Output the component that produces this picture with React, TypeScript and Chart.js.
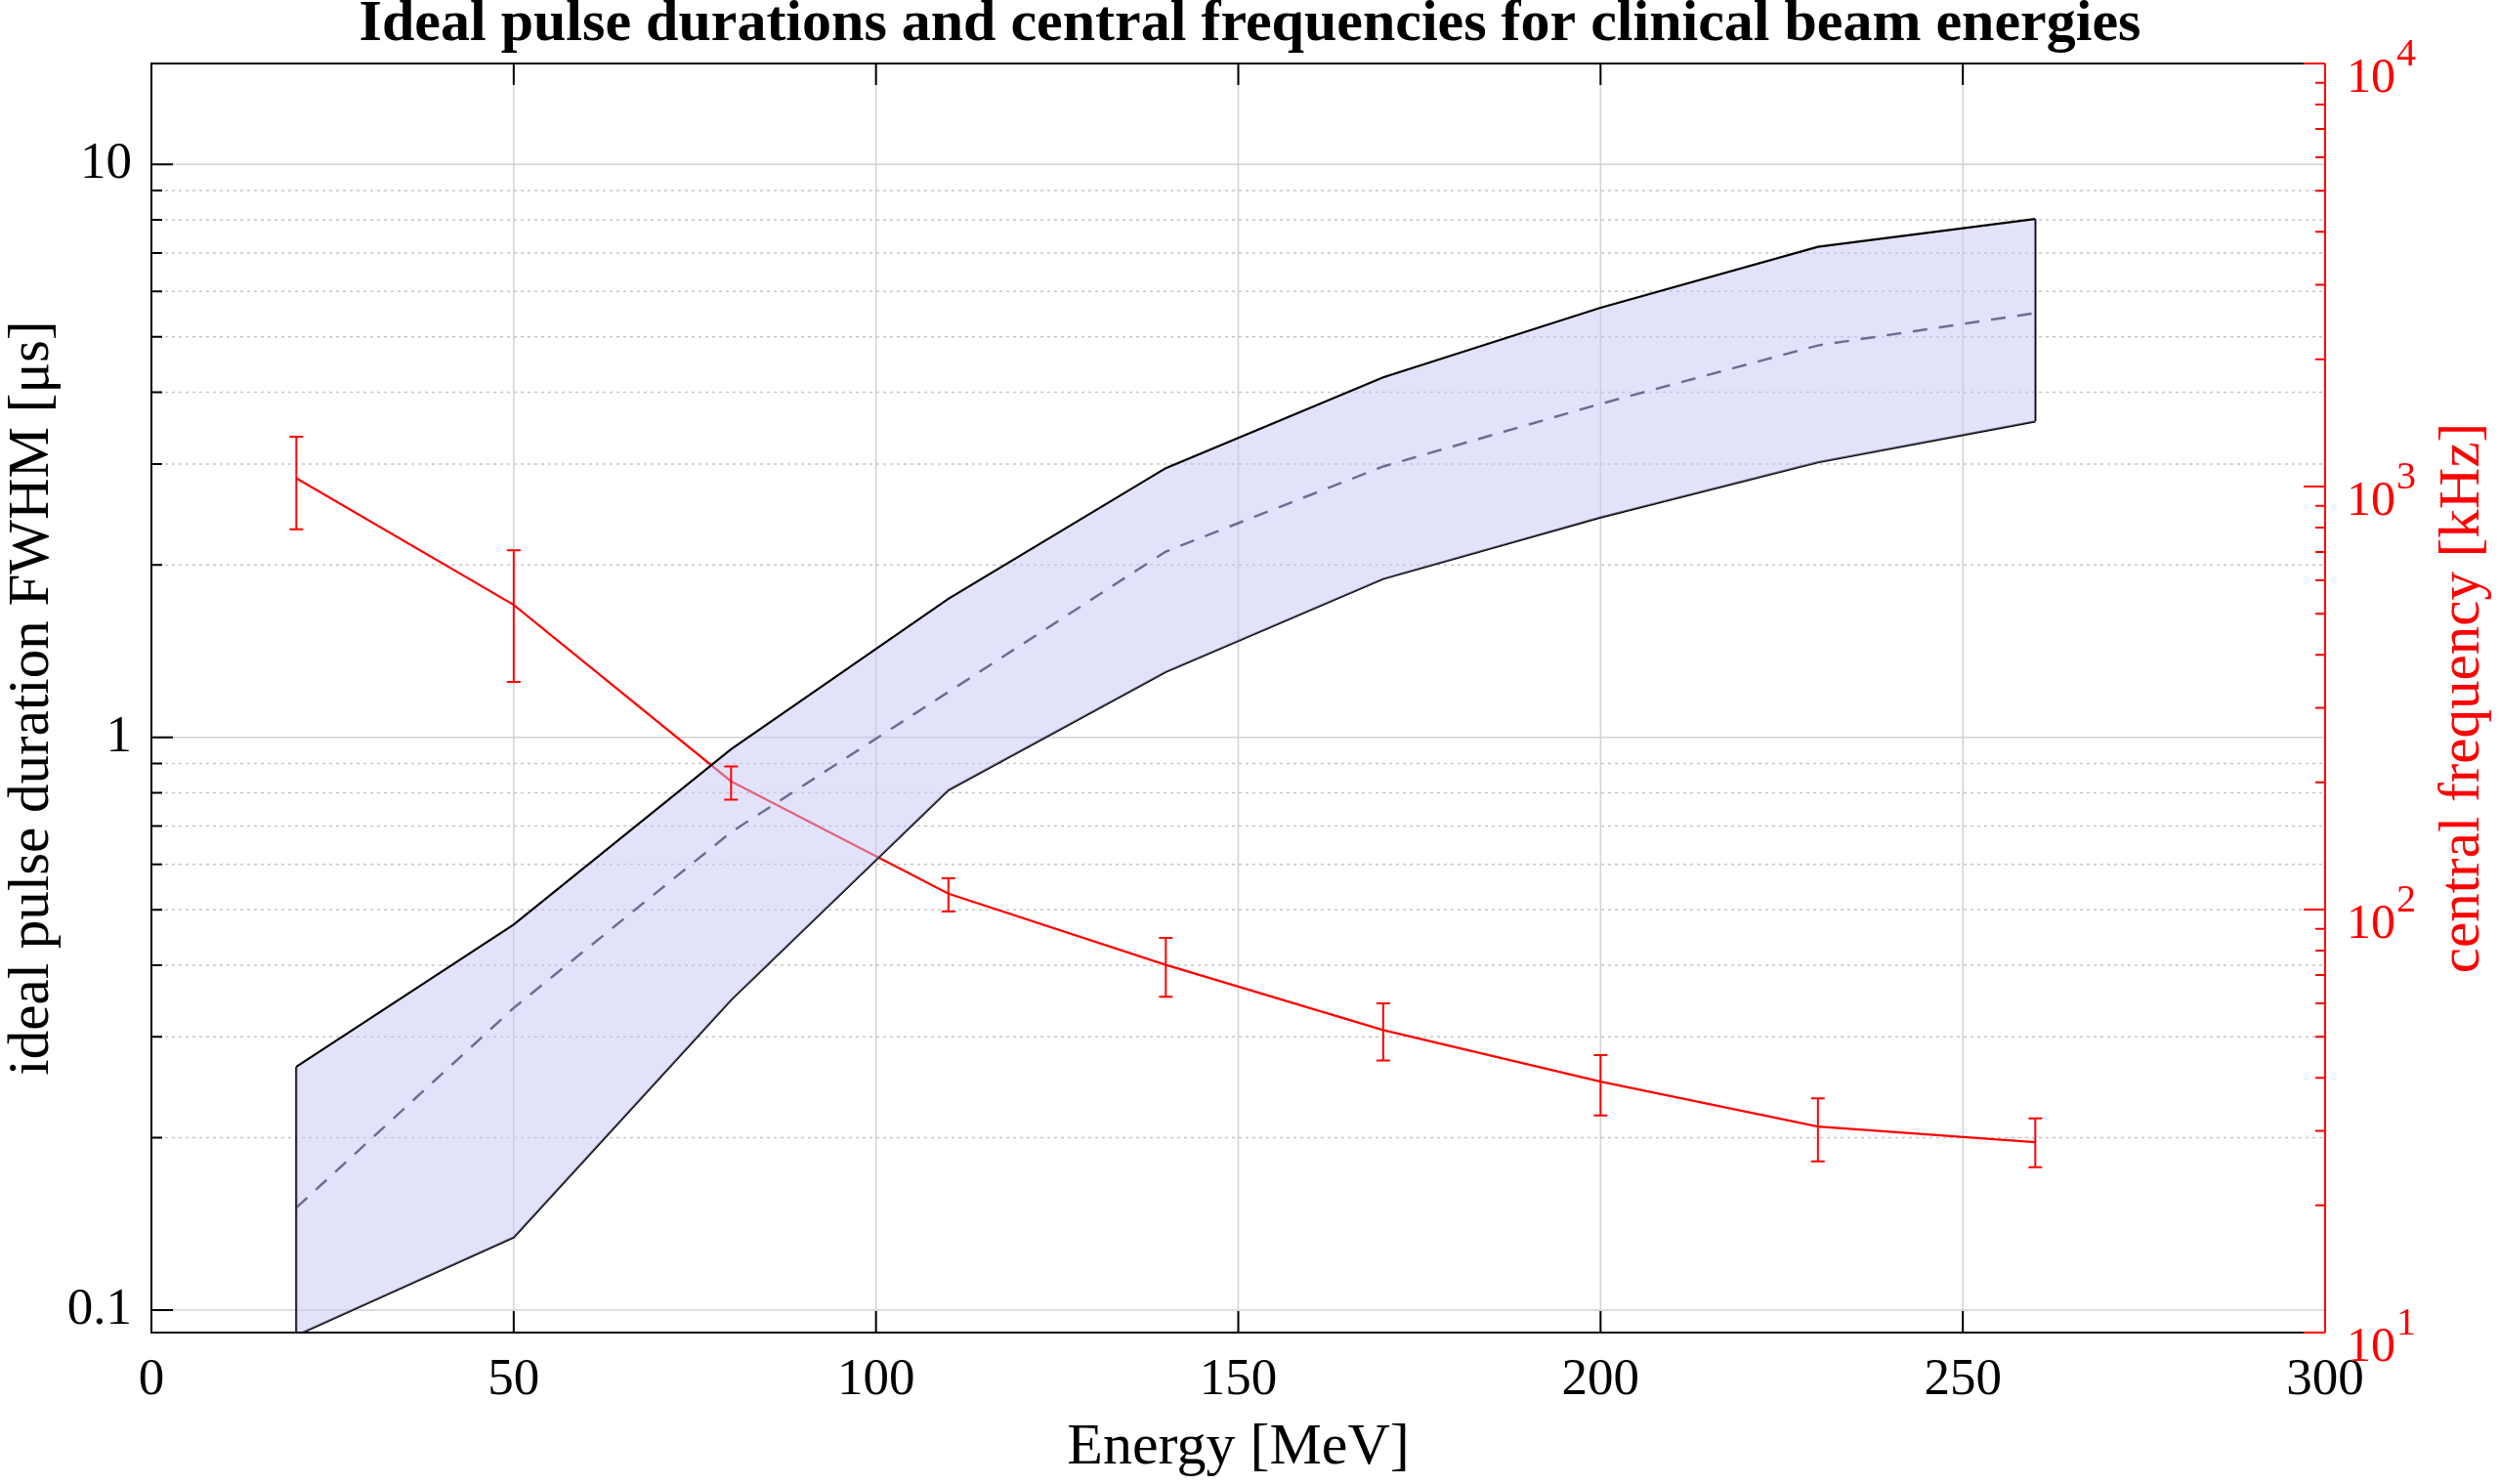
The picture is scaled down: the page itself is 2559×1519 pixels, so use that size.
import { useEffect, useRef } from 'react';
import { Chart, registerables } from 'chart.js';

Chart.register(...registerables);

// ---------- data ----------
const energies = [20, 50, 80, 110, 140, 170, 200, 230, 260];
const pulseUpper = [0.266, 0.471, 0.953, 1.745, 2.95, 4.25, 5.62, 7.18, 8.03];
const pulseMid = [0.151, 0.337, 0.683, 1.2, 2.11, 2.97, 3.82, 4.83, 5.5];
const pulseLower = [0.0904, 0.134, 0.348, 0.809, 1.3, 1.89, 2.42, 3.02, 3.56];
const freqCentral = [1046, 525, 201, 109, 74, 51.9, 39.2, 30.7, 28.2];
const freqHigh = [1312, 707, 218, 118.5, 85.7, 60, 45.3, 35.8, 32.1];
const freqLow = [792, 345, 182, 99, 62.2, 44, 32.6, 25.4, 24.6];

const xTickValues = [0, 50, 100, 150, 200, 250, 300];
const leftMajorTicks = [0.1, 1, 10];
const leftMinorTicks = [0.2, 0.3, 0.4, 0.5, 0.6, 0.7, 0.8, 0.9, 2, 3, 4, 5, 6, 7, 8, 9];
const rightExponents = [1, 2, 3, 4];
const rightMinorTicks = [
  20, 30, 40, 50, 60, 70, 80, 90,
  200, 300, 400, 500, 600, 700, 800, 900,
  2000, 3000, 4000, 5000, 6000, 7000, 8000, 9000,
];

const TITLE = 'Ideal pulse durations and central frequencies for clinical beam energies';
const X_TITLE = 'Energy [MeV]';
const Y_TITLE = 'ideal pulse duration FWHM [\u03bcs]';
const Y2_TITLE = 'central frequency [kHz]';

const FONT = "'Liberation Serif', 'Times New Roman', serif";
const RED = '#ff0000';

const matlabAxes = {
  id: 'matlabAxes',
  beforeDatasetsDraw(chart: any) {
    const { ctx, chartArea: a, scales } = chart;
    const x = scales.x;
    const y = scales.y;
    ctx.save();
    ctx.lineWidth = 1.5;
    ctx.strokeStyle = '#d2d2d2';
    ctx.beginPath();
    xTickValues.slice(1, -1).forEach((v) => {
      const px = x.getPixelForValue(v);
      ctx.moveTo(px, a.top);
      ctx.lineTo(px, a.bottom);
    });
    leftMajorTicks.forEach((v) => {
      const py = y.getPixelForValue(v);
      ctx.moveTo(a.left, py);
      ctx.lineTo(a.right, py);
    });
    ctx.stroke();
    ctx.setLineDash([3, 4]);
    ctx.strokeStyle = '#c6c6c6';
    ctx.beginPath();
    leftMinorTicks.forEach((v) => {
      const py = y.getPixelForValue(v);
      ctx.moveTo(a.left, py);
      ctx.lineTo(a.right, py);
    });
    ctx.stroke();
    ctx.restore();
  },
  afterDatasetsDraw(chart: any) {
    const { ctx, chartArea: a, scales } = chart;
    const x = scales.x;
    const y = scales.y;
    const y2 = scales.y2;
    ctx.save();

    // error bars
    ctx.strokeStyle = RED;
    ctx.lineWidth = 2;
    ctx.beginPath();
    energies.forEach((e, i) => {
      const px = x.getPixelForValue(e);
      const hi = y2.getPixelForValue(freqHigh[i]);
      const lo = y2.getPixelForValue(freqLow[i]);
      ctx.moveTo(px, hi);
      ctx.lineTo(px, lo);
      ctx.moveTo(px - 7, hi);
      ctx.lineTo(px + 7, hi);
      ctx.moveTo(px - 7, lo);
      ctx.lineTo(px + 7, lo);
    });
    ctx.stroke();

    // box (black)
    ctx.strokeStyle = '#000';
    ctx.lineWidth = 2;
    ctx.beginPath();
    ctx.moveTo(a.right, a.top);
    ctx.lineTo(a.left, a.top);
    ctx.lineTo(a.left, a.bottom);
    ctx.lineTo(a.right, a.bottom);
    // x ticks (inward, top and bottom)
    xTickValues.forEach((v) => {
      const px = x.getPixelForValue(v);
      ctx.moveTo(px, a.bottom);
      ctx.lineTo(px, a.bottom - 22);
      ctx.moveTo(px, a.top);
      ctx.lineTo(px, a.top + 22);
    });
    // left ticks
    leftMajorTicks.forEach((v) => {
      const py = y.getPixelForValue(v);
      ctx.moveTo(a.left, py);
      ctx.lineTo(a.left + 22, py);
    });
    leftMinorTicks.forEach((v) => {
      const py = y.getPixelForValue(v);
      ctx.moveTo(a.left, py);
      ctx.lineTo(a.left + 11, py);
    });
    ctx.stroke();

    // right axis (red)
    ctx.strokeStyle = RED;
    ctx.beginPath();
    ctx.moveTo(a.right, a.top);
    ctx.lineTo(a.right, a.bottom);
    rightExponents.forEach((e) => {
      const py = y2.getPixelForValue(Math.pow(10, e));
      ctx.moveTo(a.right, py);
      ctx.lineTo(a.right - 22, py);
    });
    rightMinorTicks.forEach((v) => {
      const py = y2.getPixelForValue(v);
      ctx.moveTo(a.right, py);
      ctx.lineTo(a.right - 10, py);
    });
    ctx.stroke();

    // right tick labels 10^n
    ctx.fillStyle = RED;
    ctx.textAlign = 'left';
    ctx.textBaseline = 'alphabetic';
    rightExponents.forEach((e) => {
      const py = y2.getPixelForValue(Math.pow(10, e));
      ctx.font = `50px ${FONT}`;
      ctx.fillText('10', a.right + 22, py + 29);
      const w = ctx.measureText('10').width;
      ctx.font = `40px ${FONT}`;
      ctx.fillText(String(e), a.right + 22 + w + 1, py + 2);
    });

    // right axis title
    ctx.save();
    ctx.translate(2537, (a.top + a.bottom) / 2);
    ctx.rotate(-Math.PI / 2);
    ctx.font = `59px ${FONT}`;
    ctx.textAlign = 'center';
    ctx.textBaseline = 'alphabetic';
    ctx.fillStyle = RED;
    ctx.fillText(Y2_TITLE, 0, 0);
    ctx.restore();

    ctx.restore();
  },
};

export default function App() {
  const canvasRef = useRef<HTMLCanvasElement | null>(null);

  useEffect(() => {
    const canvas = canvasRef.current;
    if (!canvas) return;
    const pts = (ys: number[]) => energies.map((e, i) => ({ x: e, y: ys[i] }));
    const last = energies.length - 1;

    const chart = new Chart(canvas, {
      type: 'line',
      data: {
        datasets: [
          {
            label: 'upper',
            data: pts(pulseUpper),
            borderColor: '#000',
            borderWidth: 2.2,
            backgroundColor: 'rgba(198,198,248,0.5)',
            fill: '+1',
            pointRadius: 0,
            tension: 0,
            clip: 0,
            yAxisID: 'y',
          },
          {
            label: 'lower',
            data: pts(pulseLower),
            borderColor: '#000',
            borderWidth: 2.2,
            fill: false,
            pointRadius: 0,
            tension: 0,
            clip: 0,
            yAxisID: 'y',
          },
          {
            label: 'edgeStart',
            data: [
              { x: energies[0], y: pulseUpper[0] },
              { x: energies[0], y: pulseLower[0] },
            ],
            borderColor: '#000',
            borderWidth: 2.2,
            fill: false,
            pointRadius: 0,
            clip: 0,
            yAxisID: 'y',
          },
          {
            label: 'edgeEnd',
            data: [
              { x: energies[last], y: pulseUpper[last] },
              { x: energies[last], y: pulseLower[last] },
            ],
            borderColor: '#000',
            borderWidth: 2.2,
            fill: false,
            pointRadius: 0,
            clip: 0,
            yAxisID: 'y',
          },
          {
            label: 'mid',
            data: pts(pulseMid),
            borderColor: '#141430',
            borderWidth: 2.5,
            borderDash: [15, 12],
            fill: false,
            pointRadius: 0,
            tension: 0,
            clip: 0,
            yAxisID: 'y',
          },
          {
            label: 'freq',
            data: pts(freqCentral),
            borderColor: RED,
            borderWidth: 2.2,
            fill: false,
            pointRadius: 0,
            tension: 0,
            clip: 0,
            yAxisID: 'y2',
          },
        ],
      },
      options: {
        animation: false,
        responsive: true,
        maintainAspectRatio: false,
        layout: { padding: 0 },
        plugins: {
          legend: { display: false },
          tooltip: { enabled: false },
          title: {
            display: true,
            text: TITLE,
            color: '#000',
            font: { family: FONT, size: 60, weight: 'bold', lineHeight: 0.8 },
            padding: { top: 1, bottom: 16 },
          },
        },
        scales: {
          x: {
            type: 'linear',
            min: 0,
            max: 300,
            afterBuildTicks: (s: any) => {
              s.ticks = xTickValues.map((v) => ({ value: v }));
            },
            ticks: {
              color: '#000',
              font: { family: FONT, size: 53 },
              padding: 17,
              maxRotation: 0,
              callback: (v: any) => String(v),
            },
            grid: { display: false, drawTicks: false },
            border: { display: false },
            title: {
              display: true,
              text: X_TITLE,
              color: '#000',
              font: { family: FONT, size: 60, lineHeight: 1.2 },
              padding: { top: 0, bottom: 1 },
            },
            afterFit: (s: any) => {
              s.height = 155;
            },
          },
          y: {
            type: 'logarithmic',
            position: 'left',
            min: 0.0914,
            max: 15,
            afterBuildTicks: (s: any) => {
              s.ticks = leftMajorTicks.map((v) => ({ value: v }));
            },
            ticks: {
              color: '#000',
              font: { family: FONT, size: 53 },
              padding: 20,
              callback: (v: any) => String(v),
            },
            grid: { display: false, drawTicks: false },
            border: { display: false },
            title: {
              display: true,
              text: Y_TITLE,
              color: '#000',
              font: { family: FONT, size: 59, lineHeight: 1.15 },
              padding: { top: 0, bottom: 0 },
            },
            afterFit: (s: any) => {
              s.width = 155;
            },
          },
          y2: {
            type: 'logarithmic',
            position: 'right',
            min: 10,
            max: 10000,
            afterBuildTicks: (s: any) => {
              s.ticks = rightExponents.map((e) => ({ value: Math.pow(10, e) }));
            },
            ticks: { display: false },
            grid: { display: false, drawTicks: false },
            border: { display: false },
            afterFit: (s: any) => {
              s.width = 179;
            },
          },
        },
      },
      plugins: [matlabAxes],
    } as any);

    return () => chart.destroy();
  }, []);

  return (
    <div style={{ position: 'absolute', left: 0, top: 0, width: '2559px', height: '1519px', background: '#fff' }}>
      <canvas ref={canvasRef} />
    </div>
  );
}
